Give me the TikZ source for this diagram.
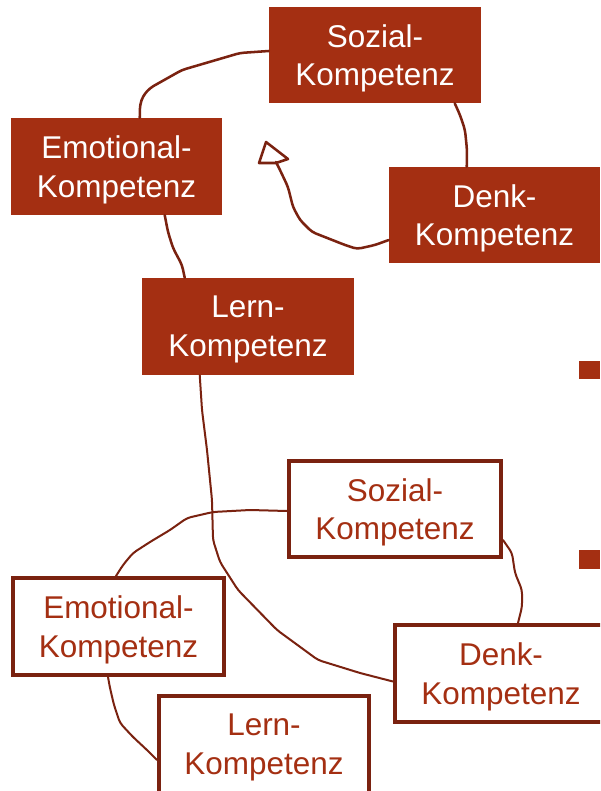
\documentclass[tikz,border=0pt]{standalone}
\usepackage{fontspec}
\setmainfont{Liberation Sans}
\usetikzlibrary{calc}
\definecolor{boxred}{RGB}{164,47,18}
\definecolor{linebrown}{RGB}{122,34,16}
\begin{document}
\begin{tikzpicture}[x=0.75pt,y=-0.75pt,
  fillbox/.style={rectangle,fill=boxred,text=white,inner sep=0pt,align=center,text depth=0pt,
    font=\fontsize{23.6}{29}\selectfont},
  linebox/.style={rectangle,draw=linebrown,line width=3pt,fill=white,text=boxred,inner sep=0pt,align=center,text depth=0pt,
    font=\fontsize{23.6}{29}\selectfont},
  connA/.style={draw=linebrown,line width=1.9pt,rounded corners=3pt,line join=round,line cap=round},
  connB/.style={draw=linebrown,line width=1.5pt,rounded corners=3pt,line join=round,line cap=round}]
\useasboundingbox (0,0) rectangle (600,791);
\clip (0,0) rectangle (600,791);
\fill[white] (0,0) rectangle (600,791);

% top group (filled)
\node[fillbox,minimum width=212*0.75pt,minimum height=96*0.75pt] (sozA) at (375,55) {Sozial-\\Kompetenz};
\node[fillbox,minimum width=211*0.75pt,minimum height=97*0.75pt] (emoA) at (116.5,166.5) {Emotional-\\Kompetenz};
\node[fillbox,minimum width=211*0.75pt,minimum height=96*0.75pt] (denkA) at (494.5,215) {Denk-\\Kompetenz};
\node[fillbox,minimum width=212*0.75pt,minimum height=97*0.75pt] (lernA) at (248,326.5) {Lern-\\Kompetenz};

% bullets
\fill[boxred] (579,361) rectangle (600,379);
\fill[boxred] (579,550) rectangle (600,569);

% connectors top
\draw[connA] (emoA.north west) ++(129,0) -- (140,105) -- (143,96) -- (150,88) -- (182,70) -- (240,53) -- ($(sozA.west)+(0,-4)$);
\draw[connA] (sozA.south west) ++(186,0) -- (460,115) -- (465,130) -- (467,150) -- ($(denkA.north west)+(78,0)$);
\coordinate (arrowtip) at (266,142);
\draw[connA] (denkA.west) ++(0,25) -- (375,245) -- (357,249) -- (345,245) -- (312,232) -- (300,220) -- (293,207) -- (288,187) -- (280,170) -- (276,162);
\draw[draw=linebrown,line width=1.9pt,line join=round] (arrowtip) -- (259,163) -- (276,163) -- (288,159) -- cycle;
\draw[connA] (emoA.south west) ++(154,0) -- (168,232) -- (173,248) -- (182,265) -- ($(lernA.north west)+(43,0)$);

% bottom group boxes
\node[linebox,minimum width=212*0.75pt,minimum height=96*0.75pt] (sozB) at (395,509) {Sozial-\\Kompetenz};
\node[linebox,minimum width=211*0.75pt,minimum height=97*0.75pt] (emoB) at (118.5,626.5) {Emotional-\\Kompetenz};
\node[linebox,minimum width=212*0.75pt,minimum height=97*0.75pt] (denkB) at (501,673.5) {Denk-\\Kompetenz};
\node[linebox,minimum width=210*0.75pt,minimum height=97*0.75pt] (lernB) at (264,744.5) {Lern-\\Kompetenz};

% long connector
\draw[connB] (lernA.south west) ++(58,0) -- (202,410) -- (207,450) -- (212,500) -- (213,540) -- (220,562) -- (238,590) -- (277,630) -- (318,660) -- (360,673) -- ($(denkB.west)+(0,8)$);

% bottom connectors
\draw[connB] (sozB.west) ++(0,2) -- (250,510) -- (213,512) -- (187,518) -- (170,530) -- (150,542) -- (133,553) -- (123,565) -- ($(emoB.north west)+(105,0)$);
\draw[connB] (sozB.east) ++(0,31) -- (512,553) -- (515,573) -- (522,590) -- (522,607) -- ($(denkB.north west)+(125,0)$);
\draw[connB] (emoB.south west) ++(97,0) -- (110,688) -- (114,705) -- (120,723) -- (133,737) -- (147,750) -- ($(lernB.west)+(0,15.5)$);
\end{tikzpicture}
\end{document}
